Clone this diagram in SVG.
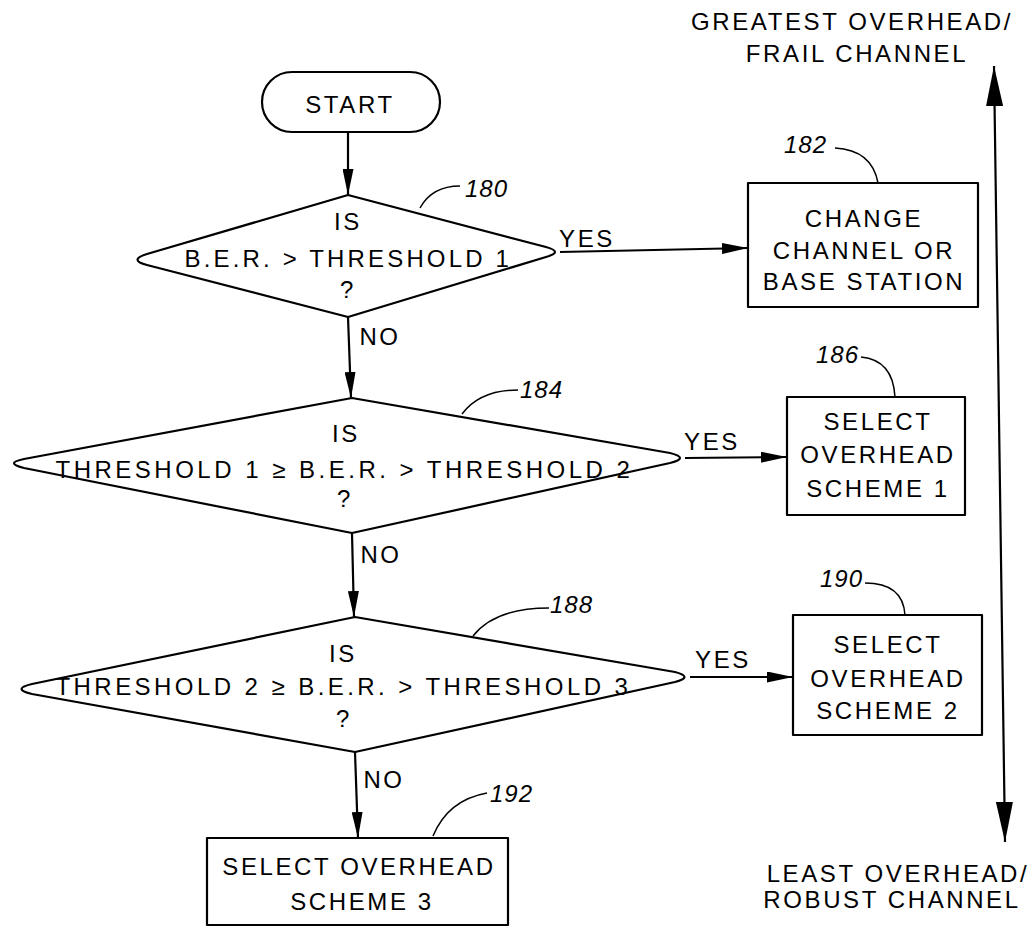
<svg xmlns="http://www.w3.org/2000/svg" width="1034" height="928" viewBox="0 0 1034 928">
<defs>
<style>
.ln{fill:none;stroke:#000;stroke-width:2.2;stroke-linejoin:round}
.ld{fill:none;stroke:#000;stroke-width:1.5}
.t{font-family:"Liberation Sans",Arial,sans-serif;font-size:24px;letter-spacing:2.6px;fill:#000;text-anchor:middle}
.r{font-family:"Liberation Sans",Arial,sans-serif;font-size:24px;font-style:italic;fill:#000;letter-spacing:1px}
</style>
<marker id="ah" markerUnits="userSpaceOnUse" markerWidth="26" markerHeight="11" refX="26" refY="5.5" orient="auto"><path d="M0,0 L26,5.5 L0,11 Z" fill="#000"/></marker>
<marker id="big" markerUnits="userSpaceOnUse" markerWidth="40" markerHeight="17" refX="40" refY="8.5" orient="auto-start-reverse"><path d="M0,0 L40,8.5 L0,17 Z" fill="#000"/></marker>
</defs>
<rect width="1034" height="928" fill="#fff"/>

<g id="connectors">
<line class="ln" x1="348" y1="132" x2="348" y2="195" marker-end="url(#ah)"/>
<line class="ln" x1="560" y1="252" x2="748" y2="248" marker-end="url(#ah)"/>
<line class="ln" x1="348" y1="317" x2="351" y2="398" marker-end="url(#ah)"/>
<line class="ln" x1="685" y1="458" x2="787" y2="457" marker-end="url(#ah)"/>
<line class="ln" x1="352" y1="533" x2="354" y2="617" marker-end="url(#ah)"/>
<line class="ln" x1="690" y1="677" x2="793" y2="677" marker-end="url(#ah)"/>
<line class="ln" x1="355" y1="752" x2="358" y2="838" marker-end="url(#ah)"/>
<line class="ln" x1="994" y1="66" x2="1005" y2="842" marker-start="url(#big)" marker-end="url(#big)"/>
<text class="t" x="587" y="247">YES</text>
<text class="t" x="380" y="345">NO</text>
<text class="t" x="712" y="450">YES</text>
<text class="t" x="381" y="563">NO</text>
<text class="t" x="723" y="668">YES</text>
<text class="t" x="384" y="788">NO</text>
</g>

<g id="start">
<rect class="ln" x="262" y="72" width="178" height="60" rx="30" ry="30"/>
<text class="t" x="350" y="113">START</text>
</g>

<g id="n180">
<path class="ln" d="M348,195 L147,254 Q128,260 147,265 L348,317 L546,257 Q564,252 546,247 Z"/>
<text class="t" x="348" y="230">IS</text>
<text class="t" x="348" y="267" textLength="327" lengthAdjust="spacing">B.E.R. &gt; THRESHOLD 1</text>
<text class="t" x="348" y="298">?</text>
<path class="ld" d="M460,186 Q432,186 420,208"/>
<text class="r" x="465" y="197">180</text>
</g>

<g id="n182">
<rect class="ln" x="748" y="183" width="230" height="124"/>
<text class="t" x="864" y="227">CHANGE</text>
<text class="t" x="864" y="259">CHANNEL OR</text>
<text class="t" x="864" y="290">BASE STATION</text>
<path class="ld" d="M835,148 Q872,150 878,183"/>
<text class="r" x="784" y="153">182</text>
</g>

<g id="n184">
<path class="ln" d="M352,398 L24,459 Q4,463 24,468 L352,533 L670,463 Q690,458 670,453 Z"/>
<text class="t" x="346" y="442">IS</text>
<text class="t" x="344" y="478" textLength="577" lengthAdjust="spacing">THRESHOLD 1 ≥ B.E.R. &gt; THRESHOLD 2</text>
<text class="t" x="345" y="507">?</text>
<path class="ld" d="M518,390 Q480,390 462,414"/>
<text class="r" x="520" y="398">184</text>
</g>

<g id="n186">
<rect class="ln" x="787" y="397" width="178" height="118"/>
<text class="t" x="878" y="430">SELECT</text>
<text class="t" x="878" y="463">OVERHEAD</text>
<text class="t" x="878" y="497">SCHEME 1</text>
<path class="ld" d="M861,357 Q893,360 895,397"/>
<text class="r" x="816" y="363">186</text>
</g>

<g id="n188">
<path class="ln" d="M355,617 L32,684 Q11,689 32,694 L355,752 L675,682 Q694,677 675,672 Z"/>
<text class="t" x="343" y="662">IS</text>
<text class="t" x="343" y="695" textLength="575" lengthAdjust="spacing">THRESHOLD 2 ≥ B.E.R. &gt; THRESHOLD 3</text>
<text class="t" x="344" y="727">?</text>
<path class="ld" d="M549,608 Q495,608 473,636"/>
<text class="r" x="550" y="613">188</text>
</g>

<g id="n190">
<rect class="ln" x="793" y="615" width="189" height="120"/>
<text class="t" x="888" y="653">SELECT</text>
<text class="t" x="888" y="687">OVERHEAD</text>
<text class="t" x="888" y="719">SCHEME 2</text>
<path class="ld" d="M865,583 Q903,583 905,615"/>
<text class="r" x="820" y="587">190</text>
</g>

<g id="n192">
<rect class="ln" x="207" y="838" width="301" height="87"/>
<text class="t" x="359" y="875">SELECT OVERHEAD</text>
<text class="t" x="362" y="910">SCHEME 3</text>
<path class="ld" d="M487,793 Q448,800 433,836"/>
<text class="r" x="490" y="802">192</text>
</g>

<g id="scale-labels">
<text class="t" x="852" y="30">GREATEST OVERHEAD/</text>
<text class="t" x="857" y="62">FRAIL CHANNEL</text>
<text class="t" x="898" y="882">LEAST OVERHEAD/</text>
<text class="t" x="892" y="908">ROBUST CHANNEL</text>
</g>
</svg>
